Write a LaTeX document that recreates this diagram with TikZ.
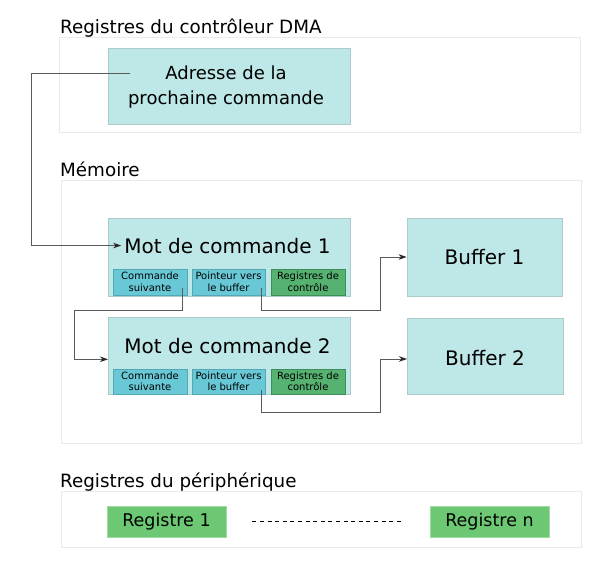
\documentclass[tikz,border=0pt]{standalone}
\usepackage{fontspec}
\setmainfont{DejaVu Sans}
\usetikzlibrary{arrows.meta}
\definecolor{panelline}{RGB}{234,234,234}
\definecolor{teal1}{RGB}{190,231,231}
\definecolor{teal1line}{RGB}{172,204,204}
\definecolor{cyan1}{RGB}{104,200,214}
\definecolor{cyan1line}{RGB}{82,168,182}
\definecolor{green1}{RGB}{86,178,113}
\definecolor{green1line}{RGB}{62,142,88}
\definecolor{green2}{RGB}{108,200,114}
\definecolor{green2line}{RGB}{160,218,160}
\definecolor{wire}{RGB}{90,90,90}
\tikzset{
  panel/.style={draw=panelline, line width=1pt, fill=white, inner sep=0pt},
  bigbox/.style={draw=teal1line, fill=teal1, line width=0.8pt, inner sep=0pt},
  subcyan/.style={draw=cyan1line, fill=cyan1, line width=0.8pt, inner sep=0pt,
    align=center, font=\fontsize{10}{11.5}\selectfont},
  subgreen/.style={draw=green1line, fill=green1, line width=0.8pt, inner sep=0pt,
    align=center, font=\fontsize{10}{11.5}\selectfont},
  regbox/.style={draw=green2line, fill=green2, line width=0.8pt, inner sep=0pt,
    font=\fontsize{17.5}{21}\selectfont},
  paneltitle/.style={anchor=base west, inner sep=0pt, font=\fontsize{18.3}{22}\selectfont},
  bigtext/.style={anchor=base, inner sep=0pt, font=\fontsize{20}{24}\selectfont},
  midtext/.style={align=center, inner sep=0pt, font=\fontsize{18}{24.3}\selectfont},
  wirestyle/.style={draw=wire, line width=1pt, -{Stealth[length=8pt,width=5.5pt,inset=2.5pt,color=black!85]}},
}
\begin{document}
\begin{tikzpicture}[x=1pt,y=-1pt]
\useasboundingbox[fill=white] (0,0) rectangle (600,583);

% ---- DMA controller registers
\node[panel, minimum width=521, minimum height=95] (pan1) at (319.5,85.5) {};
\node[paneltitle] (t1) at (60,34) {Registres du contrôleur DMA};
\node[bigbox, minimum width=242, minimum height=76] (adr) at (229,86) {};
\node[midtext] (adrt) at (226,87) {Adresse de la\\prochaine commande};

% ---- Memory
\node[panel, minimum width=520, minimum height=262] (pan2) at (321,312) {};
\node[paneltitle] (t2) at (60,177) {Mémoire};

\node[bigbox, minimum width=242, minimum height=78] (mot1) at (229,257) {};
\node[bigtext] (m1t) at (227.5,253) {Mot de commande 1};
\node[subcyan, minimum width=74, minimum height=26] (cs1) at (150,282) {Commande\\suivante};
\node[subcyan, minimum width=73, minimum height=26] (pb1) at (228.5,282) {Pointeur vers\\le buffer};
\node[subgreen, minimum width=74, minimum height=26] (rc1) at (308,282) {Registres de\\contrôle};

\node[bigbox, minimum width=242, minimum height=77] (mot2) at (229,355.5) {};
\node[bigtext] (m2t) at (227.5,353) {Mot de commande 2};
\node[subcyan, minimum width=74, minimum height=25] (cs2) at (150,381.5) {Commande\\suivante};
\node[subcyan, minimum width=73, minimum height=25] (pb2) at (228.5,381.5) {Pointeur vers\\le buffer};
\node[subgreen, minimum width=74, minimum height=25] (rc2) at (308,381.5) {Registres de\\contrôle};

\node[bigbox, minimum width=155, minimum height=78] (buf1) at (484.5,257) {};
\node[bigtext] (b1t) at (484.5,264) {Buffer 1};
\node[bigbox, minimum width=156, minimum height=76] (buf2) at (485,356) {};
\node[bigtext] (b2t) at (485,365) {Buffer 2};

% ---- Peripheral registers
\node[panel, minimum width=520, minimum height=56] (pan3) at (321,519) {};
\node[paneltitle] (t3) at (60,487) {Registres du périphérique};
\node[regbox, minimum width=119, minimum height=31] (reg1) at (166.5,521.5) {Registre 1};
\node[regbox, minimum width=119, minimum height=31] (regn) at (489.5,521.5) {Registre n};
\draw[line width=0.9pt, dash pattern=on 4pt off 3.6pt, shorten <=26pt, shorten >=29pt] (reg1) -- (regn);

% ---- Connectors
\coordinate (a0) at (130,73.3);
\coordinate (bend1) at (31,73.3);
\draw[wirestyle, shorten >=3pt] (a0) -- (bend1) |- (m1t.west);

\coordinate (b0) at (182,288);
\coordinate (bend2) at (74,310);
\coordinate (m2in) at (108,359.3);
\draw[wirestyle] (b0) |- (bend2) |- (m2in);

\coordinate (p1) at (261,288);
\coordinate (bend3) at (380,310);
\draw[wirestyle] (p1) |- (bend3) |- (buf1.west);

\coordinate (p2) at (261,390);
\coordinate (bend4) at (380,412);
\coordinate (b2in) at (407,359);
\draw[wirestyle] (p2) |- (bend4) |- (b2in);
\end{tikzpicture}
\end{document}
